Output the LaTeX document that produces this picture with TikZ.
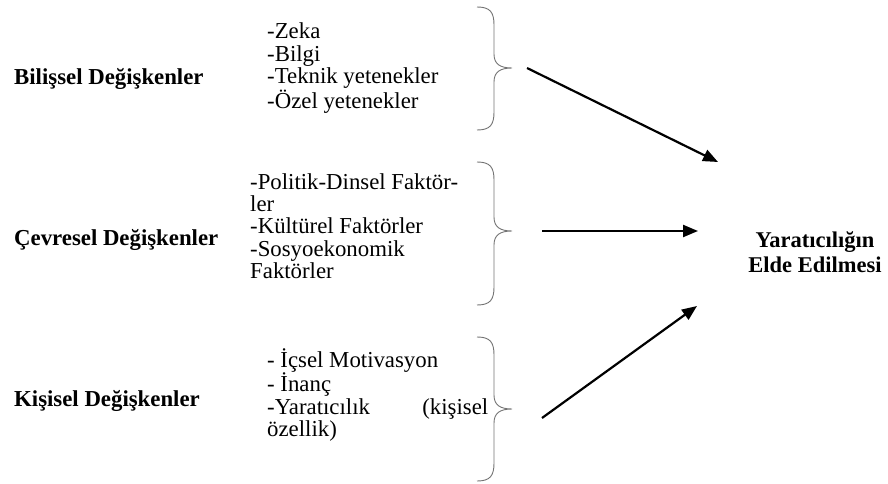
\documentclass[tikz,border=0pt]{standalone}
\usepackage{fontspec}
\setmainfont{Liberation Serif}
\usetikzlibrary{arrows.meta,positioning}
\tikzset{
every node/.style={inner sep=0pt,font=\fontsize{22.8}{22.4}\selectfont},
style1/.style= {anchor=west,font=\fontsize{22.8}{22.4}\selectfont\bfseries},
style2/.style= {anchor=west,align=left},
style3/.style= {align=center,font=\fontsize{22.5}{25}\selectfont\bfseries},
bracepath/.style= {draw=black!55,line width=0.9pt},
okline/.style= {-{Triangle[length=15pt,width=12pt]},line width=2.2pt}
}
% right curly brace: #1 top, #2 tip, #3 bottom
\newcommand{\kume}[3]{%
  \draw[bracepath] (477,#1) .. controls (490,#1) and (494,#1+5) .. (494,#1+18)
    -- (494,#2-14) .. controls (494,#2-4) and (500,#2) .. (512,#2)
    .. controls (500,#2) and (494,#2+4) .. (494,#2+14)
    -- (494,#3-18) .. controls (494,#3-5) and (490,#3) .. (477,#3);}

\begin{document}
\begin{tikzpicture}[x=1pt,y=-1pt]
\useasboundingbox (0,0) rectangle (888,484);

% the three groups of variables
\node[style1] (bilissel) at (14,79) {Bilişsel Değişkenler};
\node[style1] (cevresel) at (14,240) {Çevresel Değişkenler};
\node[style1] (kisisel) at (14,401) {Kişisel Değişkenler};

% what each group holds
\node[style2] (l1) at (267,68) {-Zeka\\-Bilgi\\-Teknik yetenekler\\-Özel yetenekler};
\node[style2] (l2) at (250,226) {-Politik-Dinsel Faktör-\\ler\\-Kültürel Faktörler\\-Sosyoekonomik\\Faktörler};
\node[style2] (l3) at (267,395) {- İçsel Motivasyon\\- İnanç\\\hbox to 221pt{-Yaratıcılık\hfill(kişisel}\\özellik)};

% the result
\node[style3] (sonuc) at (815,252) {Yaratıcılığın\\Elde Edilmesi};

% braces
\kume{7}{68}{130}
\kume{162}{231}{305}
\kume{337}{409}{481}

% arrows towards the result
\coordinate (a1) at (527,68);
\coordinate (a2) at (542,231);
\coordinate (a3) at (542,418);
\coordinate (e1) at (718,162);
\coordinate (e2) at (698,231);
\coordinate (e3) at (697,306);
\foreach \value in {1,2,3}
  \draw[okline] (a\value) -- (e\value);

\end{tikzpicture}
\end{document}
